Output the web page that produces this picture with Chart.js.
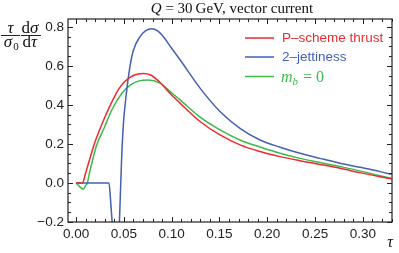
<!DOCTYPE html>
<html>
<head>
<meta charset="utf-8">
<script src="https://cdn.jsdelivr.net/npm/chart.js@4"></script>
<style>
  html, body { margin: 0; padding: 0; background: #fff; }
  #c { display: block; }
</style>
</head>
<body>
<canvas id="c" width="399" height="253"></canvas>
<script>
// values
const tauRed = [0, 0.0066, 0.010, 0.0136, 0.0188, 0.0245, 0.030, 0.035, 0.040, 0.045, 0.050, 0.056, 0.063, 0.0705, 0.078, 0.0879, 0.0985, 0.1088, 0.1297, 0.1506, 0.1715, 0.1925, 0.2134, 0.2343, 0.2552, 0.2762, 0.297, 0.318, 0.330];
const valRed = [0, 0, 0.05, 0.11, 0.195, 0.27, 0.335, 0.39, 0.44, 0.483, 0.515, 0.540, 0.556, 0.561, 0.553, 0.515, 0.458, 0.409, 0.315, 0.246, 0.195, 0.161, 0.135, 0.114, 0.095, 0.075, 0.053, 0.032, 0.020];

const tauBlue = [0, 0.0345, 0.036, 0.0385, 0.0415, 0.045, 0.0475, 0.0495, 0.052, 0.0565, 0.060, 0.067, 0.073, 0.079, 0.085, 0.092, 0.100, 0.1088, 0.1297, 0.1506, 0.1715, 0.1925, 0.2134, 0.2343, 0.2552, 0.2762, 0.297, 0.318, 0.330];
const valBlue = [0, 0, -0.08, -0.25, -0.5, -0.25, 0.1, 0.3, 0.43, 0.6, 0.68, 0.75, 0.78, 0.79, 0.78, 0.745, 0.69, 0.631, 0.486, 0.366, 0.28, 0.22, 0.183, 0.152, 0.126, 0.101, 0.08, 0.058, 0.044];

const tauGreen = [0, 0.004, 0.0077, 0.0105, 0.0118, 0.014, 0.017, 0.0216, 0.0293, 0.0375, 0.048, 0.057, 0.066, 0.0755, 0.0879, 0.0985, 0.1088, 0.1297, 0.1506, 0.1715, 0.1925, 0.2134, 0.2343, 0.2552, 0.2762, 0.297, 0.318, 0.330];
const valGreen = [0, -0.02, -0.031, -0.01, 0, 0.05, 0.11, 0.195, 0.28, 0.375, 0.46, 0.503, 0.523, 0.528, 0.511, 0.468, 0.426, 0.337, 0.272, 0.22, 0.184, 0.152, 0.126, 0.105, 0.084, 0.062, 0.037, 0.024];

const xTicks = [0, 0.05, 0.10, 0.15, 0.20, 0.25, 0.30];
const xTickLabels = ['0.00', '0.05', '0.10', '0.15', '0.20', '0.25', '0.30'];
const yTicks = [-0.2, 0, 0.2, 0.4, 0.6, 0.8];
const yTickLabels = ['\u22120.2', '0.0', '0.2', '0.4', '0.6', '0.8'];

const seriesNames = ['P\u2013scheme thrust', '2\u2013jettiness', 'm_b = 0'];
const RED = '#ec2a30', BLUE = '#4261b0', GREEN = '#3cba4a';

const zip = (xs, ys) => xs.map((x, i) => ({ x: x, y: ys[i] }));
const SANS = '"Liberation Sans", Arial, sans-serif';
const SERIF = '"Liberation Serif", "Times New Roman", serif';

// frame, inward ticks, title, axis labels and legend
const decor = {
  id: 'decor',
  afterDraw(chart) {
    const ctx = chart.ctx;
    const a = chart.chartArea;
    const xs = chart.scales.x, ys = chart.scales.y;
    ctx.save();
    ctx.strokeStyle = '#222';
    ctx.lineWidth = 1.2;
    ctx.strokeRect(a.left, a.top, a.right - a.left, a.bottom - a.top);

    ctx.lineWidth = 1;
    ctx.beginPath();
    for (let i = 0; i <= 33; i++) {
      const v = i / 100;
      const px = Math.round(xs.getPixelForValue(v)) + 0.5;
      const len = (i % 5 === 0) ? 5 : 3;
      ctx.moveTo(px, a.bottom); ctx.lineTo(px, a.bottom - len);
      ctx.moveTo(px, a.top); ctx.lineTo(px, a.top + len);
    }
    for (let i = -4; i <= 16; i++) {
      const v = i * 0.05;
      const py = Math.round(ys.getPixelForValue(v)) + 0.5;
      const len = (i % 4 === 0) ? 5 : 3;
      ctx.moveTo(a.left, py); ctx.lineTo(a.left + len, py);
      ctx.moveTo(a.right, py); ctx.lineTo(a.right - len, py);
    }
    ctx.stroke();

    // title
    ctx.fillStyle = '#111';
    ctx.textBaseline = 'alphabetic';
    ctx.font = 'italic 15px ' + SERIF;
    const wq = ctx.measureText('Q').width;
    ctx.font = '15px ' + SERIF;
    const rest = ' = 30\u2009GeV, vector current';
    const wr = ctx.measureText(rest).width;
    const tx = (a.left + a.right) / 2 - (wq + wr) / 2 + 2;
    ctx.font = 'italic 15px ' + SERIF;
    ctx.fillText('Q', tx, 13);
    ctx.font = '15px ' + SERIF;
    ctx.fillText(rest, tx + wq, 13);

    // y label: tau/sigma0 dsigma/dtau
    ctx.textAlign = 'center';
    ctx.font = 'italic 17px ' + SERIF;
    ctx.fillText('\u03c4', 10.5, 32.5);
    ctx.fillText('\u03c3', 8, 47);
    ctx.font = '11px ' + SERIF;
    ctx.fillText('0', 16, 49.5);
    ctx.font = '17px ' + SERIF;
    ctx.textAlign = 'left';
    ctx.fillText('d', 21.5, 32.5);
    ctx.fillText('d', 22.5, 47);
    ctx.font = 'italic 17px ' + SERIF;
    ctx.fillText('\u03c3', 30, 32.5);
    ctx.fillText('\u03c4', 31, 47);
    ctx.beginPath();
    ctx.lineWidth = 1;
    ctx.moveTo(1, 35.5); ctx.lineTo(20, 35.5);
    ctx.moveTo(21, 35.5); ctx.lineTo(41, 35.5);
    ctx.stroke();

    // x label
    ctx.font = 'italic 16px ' + SERIF;
    ctx.textAlign = 'center';
    ctx.fillText('\u03c4', 390, 247);

    // legend
    const rows = [[RED, 38], [BLUE, 57], [GREEN, 76.5]];
    rows.forEach((r, i) => {
      ctx.strokeStyle = r[0];
      ctx.lineWidth = 1.5;
      ctx.beginPath();
      ctx.moveTo(245, r[1]); ctx.lineTo(274, r[1]);
      ctx.stroke();
      ctx.fillStyle = r[0];
      ctx.textAlign = 'left';
      ctx.textBaseline = 'middle';
      if (i < 2) {
        ctx.font = '13.5px ' + SANS;
        ctx.fillText(seriesNames[i], 282, r[1] + 0.5);
      } else {
        ctx.textBaseline = 'alphabetic';
        ctx.font = 'italic 16px ' + SERIF;
        ctx.fillText('m', 281, r[1] + 5);
        const wm = ctx.measureText('m').width;
        ctx.font = 'italic 11px ' + SERIF;
        ctx.fillText('b', 281 + wm, r[1] + 8);
        const wb = ctx.measureText('b').width;
        ctx.font = '16px ' + SERIF;
        ctx.fillText(' = 0', 281 + wm + wb + 1, r[1] + 5);
      }
    });
    ctx.restore();
  }
};

const lineDs = (label, xs, ys, color) => ({
  label: label,
  data: zip(xs, ys),
  borderColor: color,
  borderWidth: 1.5,
  pointRadius: 0,
  fill: false,
  cubicInterpolationMode: 'monotone'
});

new Chart(document.getElementById('c').getContext('2d'), {
  type: 'line',
  data: {
    datasets: [
      lineDs(seriesNames[0], tauRed, valRed, RED),
      lineDs(seriesNames[1], tauBlue, valBlue, BLUE),
      lineDs(seriesNames[2], tauGreen, valGreen, GREEN)
    ]
  },
  options: {
    responsive: false,
    animation: false,
    devicePixelRatio: 1,
    layout: { padding: { left: 0, right: 7, top: 19, bottom: 0 } },
    plugins: { legend: { display: false }, tooltip: { enabled: false } },
    scales: {
      x: {
        type: 'linear',
        min: -0.0084,
        max: 0.3305,
        afterBuildTicks: s => { s.ticks = xTicks.map(v => ({ value: v })); },
        afterFit: s => { s.height = 31; },
        grid: { display: false, drawTicks: false },
        border: { display: false },
        ticks: {
          padding: 4,
          maxRotation: 0,
          autoSkip: false,
          color: '#222',
          font: { family: SANS, size: 13.5 },
          callback: (v, i) => xTickLabels[i]
        }
      },
      y: {
        min: -0.2,
        max: 0.84,
        afterBuildTicks: s => { s.ticks = yTicks.map(v => ({ value: v })); },
        afterFit: s => { s.width = 68; },
        grid: { display: false, drawTicks: false },
        border: { display: false },
        ticks: {
          padding: 4,
          autoSkip: false,
          color: '#222',
          font: { family: SANS, size: 13.5 },
          callback: (v, i) => yTickLabels[i]
        }
      }
    }
  },
  plugins: [decor]
});
</script>
</body>
</html>
